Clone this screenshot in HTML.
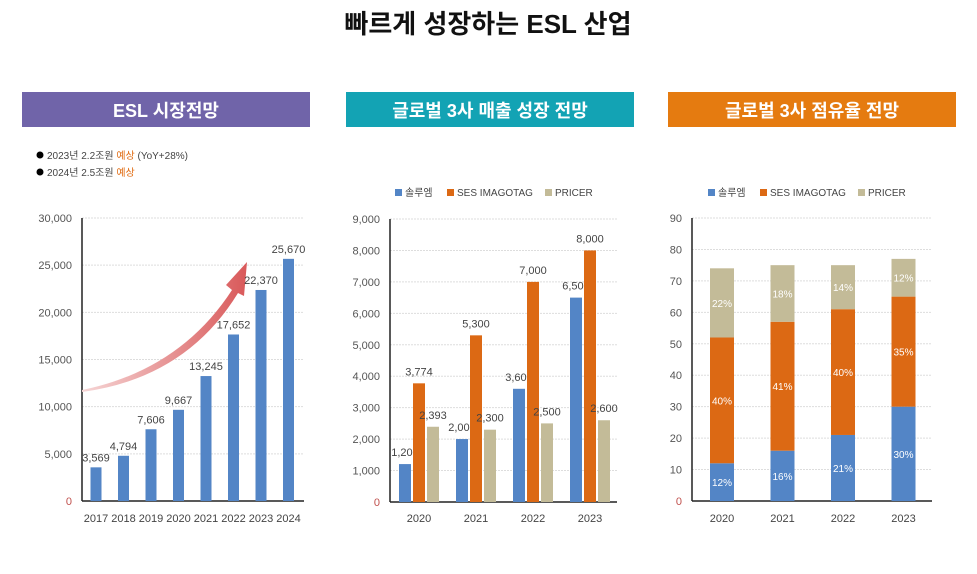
<!DOCTYPE html>
<html><head><meta charset="utf-8"><style>
body{margin:0;background:#fff;width:977px;height:569px;overflow:hidden;font-family:"Liberation Sans","Noto Sans CJK KR",sans-serif}
svg text{font-family:"Liberation Sans","Noto Sans CJK KR",sans-serif}
</style></head><body>
<svg id="s" width="977" height="569">
<defs><linearGradient id="ag" x1="0" y1="0" x2="1" y2="0"><stop offset="0" stop-color="#f6d6d6"/><stop offset="1" stop-color="#d9595a"/></linearGradient></defs>
<text x="488" y="33" text-anchor="middle" font-size="26" font-weight="bold" fill="#111">빠르게 성장하는 ESL 산업</text>
<rect x="22" y="92" width="288" height="35" fill="#7064a9"/>
<text x="166" y="117" text-anchor="middle" font-size="18" font-weight="bold" fill="#fff">ESL 시장전망</text>
<rect x="346" y="92" width="288" height="35" fill="#13a3b4"/>
<text x="490" y="117" text-anchor="middle" font-size="18" font-weight="bold" fill="#fff">글로벌 3사 매출 성장 전망</text>
<rect x="668" y="92" width="288" height="35" fill="#e57b10"/>
<text x="812" y="117" text-anchor="middle" font-size="18" font-weight="bold" fill="#fff">글로벌 3사 점유율 전망</text>
<g font-size="10" fill="#444">
<circle cx="40" cy="155" r="3.5" fill="#000"/><text x="47" y="159">2023년 2.2조원 <tspan fill="#e06a10">예상</tspan> (YoY+28%)</text>
<circle cx="40" cy="172" r="3.5" fill="#000"/><text x="47" y="176">2024년 2.5조원 <tspan fill="#e06a10">예상</tspan></text>
</g>
<g id="c1"></g>
<g id="c2"></g>
<g id="c3"></g>
</svg>
<script>
const years1=["2017","2018","2019","2020","2021","2022","2023","2024"];
const market=[3569,4794,7606,9667,13245,17652,22370,25670];
const yTicks1=[0,5000,10000,15000,20000,25000,30000];
const years2=["2020","2021","2022","2023"];
const solum=[1206,2002,3600,6500];
const ses=[3774,5300,7000,8000];
const pricer=[2393,2300,2500,2600];
const yTicks2=[0,1000,2000,3000,4000,5000,6000,7000,8000,9000];
const shareSolum=[12,16,21,30];
const shareSes=[40,41,40,35];
const sharePricer=[22,18,14,12];
const yTicks3=[0,10,20,30,40,50,60,70,80,90];
const NS="http://www.w3.org/2000/svg";
const BLUE="#5385c6",OR="#dc6914",GR="#c3bb98";
function mk(p,t,a,txt){const e=document.createElementNS(NS,t);for(const k in a)e.setAttribute(k,a[k]);if(txt!=null)e.textContent=txt;p.appendChild(e);return e;}
const fmt=v=>v.toLocaleString('en-US');
function axes(g,x0,x1,yTop,yBot,max,ticks,fmtT){
  const y=v=>yBot-(v/max)*(yBot-yTop);
  ticks.forEach(t=>{
    if(t>0){const l=mk(g,'line',{x1:x0,x2:x1,y1:y(t),y2:y(t),stroke:'#ddd','stroke-dasharray':'2,1'});}
    const tx=mk(g,'text',{x:x0-10,y:y(t)+4,'text-anchor':'end','font-size':11,fill:t==0?'#c0504d':'#555'},fmtT(t));
    
  });
  mk(g,'line',{x1:x0,x2:x0,y1:yTop,y2:yBot,stroke:'#222','stroke-width':1.5});
  mk(g,'line',{x1:x0,x2:x1,y1:yBot,y2:yBot,stroke:'#222','stroke-width':1.5});
  return y;
}
function legend(g,x,yy){
  [["솔루엠",BLUE,0],["SES IMAGOTAG",OR,52],["PRICER",GR,150]].forEach(([n,c,dx])=>{
    const r=mk(g,'rect',{x:x+dx,y:yy-7,width:7,height:7,fill:c});
    const t=mk(g,'text',{x:x+dx+10,y:yy,'font-size':10,fill:'#444'},n);
  });
}
// chart 1
{const g=document.getElementById('c1');
const y=axes(g,82,304,218,501,30000,yTicks1,fmt);
mk(g,'path',{d:'M82,390 Q180,370 232,290 L226,285 L247,262 L244,296 L238,293 Q186,378 82,392 Z',fill:'url(#ag)'});
years1.forEach((yr,i)=>{const cx=96+i*27.5;
  const r=mk(g,'rect',{x:cx-5.5,y:y(market[i]),width:11,height:501-y(market[i]),fill:BLUE});
  
  mk(g,'text',{x:cx,y:y(market[i])-6,'text-anchor':'middle','font-size':11,fill:'#444'},fmt(market[i]));
  mk(g,'text',{x:cx,y:522,'text-anchor':'middle','font-size':11,fill:'#444'},yr);
});}
// chart 2
{const g=document.getElementById('c2');
legend(g,395,196);
const y=axes(g,390,617,219,502,9000,yTicks2,fmt);
years2.forEach((yr,i)=>{const cx=419+i*57;
  [[solum,BLUE,-14],[ses,OR,0],[pricer,GR,14]].forEach(([arr,c,dx],k)=>{
    const v=arr[i];const r=mk(g,'rect',{x:cx+dx-6,y:y(v),width:12,height:502-y(v),fill:c});
    
    mk(g,'text',{x:cx+dx,y:y(v)-8,'text-anchor':'middle','font-size':11,fill:'#444'},fmt(v));
  });
  mk(g,'text',{x:cx,y:522,'text-anchor':'middle','font-size':11,fill:'#444'},yr);
});}
// chart 3
{const g=document.getElementById('c3');
legend(g,708,196);
const y=axes(g,692,932,218,501,90,yTicks3,t=>String(t));
years2.forEach((yr,i)=>{const cx=722+i*60.5;let base=0;
  [[shareSolum,BLUE],[shareSes,OR],[sharePricer,GR]].forEach(([arr,c],k)=>{
    const v=arr[i];const top=base+v;
    const r=mk(g,'rect',{x:cx-12,y:y(top),width:24,height:y(base)-y(top),fill:c});
    
    mk(g,'text',{x:cx,y:(y(top)+y(base))/2+4,'text-anchor':'middle','font-size':10,fill:'#fff'},v+'%');
    base=top;
  });
  mk(g,'text',{x:cx,y:522,'text-anchor':'middle','font-size':11,fill:'#444'},yr);
});}
</script>
</body></html>
